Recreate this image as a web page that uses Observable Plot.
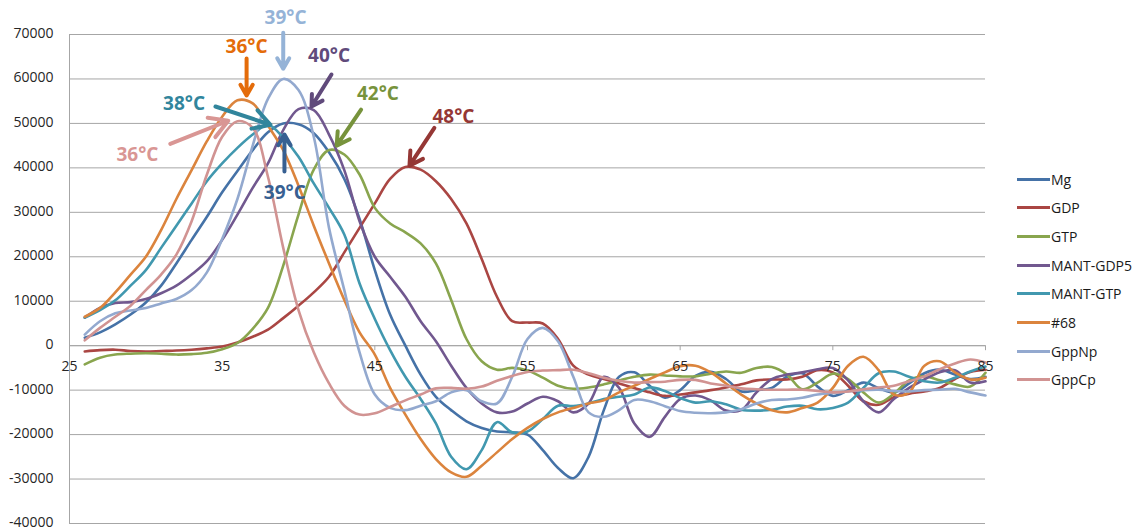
<!DOCTYPE html>
<html><head><meta charset="utf-8">
<script src="https://cdn.jsdelivr.net/npm/d3@7"></script>
<script src="https://cdn.jsdelivr.net/npm/@observablehq/plot@0.6"></script>
<style>
body{margin:0;background:#fff;font-family:"Open Sans",sans-serif;}
#wrap{position:relative;width:1134px;height:531px;overflow:hidden;}
#legend{position:absolute;left:1017px;top:0;width:117px;height:531px;}
.item{position:absolute;left:0;height:20px;display:flex;align-items:center;white-space:nowrap;font-size:14px;color:#1a1a1a;}
.sw{width:33px;height:3px;margin-right:1px;}
</style></head><body><div id="wrap"><div id="legend"></div></div>
<script>
// x categories (temperature, °C)
const temps = [26,27,28,29,30,31,32,33,34,35,36,37,38,39,40,41,42,43,44,45,46,47,48,49,50,51,52,53,54,55,56,57,58,59,60,61,62,63,64,65,66,67,68,69,70,71,72,73,74,75,76,77,78,79,80,81,82,83,84,85];

const seriesNames = ["Mg","GDP","GTP","MANT-GDP5","MANT-GTP","#68","GppNp","GppCp"];
const seriesColors = ["#4572A7","#AA4643","#89A54E","#71588F","#4198AF","#DB843D","#93A9CF","#D19392"];

const mg = [1800,3000,4800,7000,9700,13500,18500,23800,29000,34500,39300,44000,48000,50000,49800,47800,43500,37500,28500,17000,7000,0,-6500,-11500,-14500,-17000,-18500,-19300,-19500,-20000,-23500,-27500,-29800,-25000,-14500,-7000,-6000,-9000,-11700,-10000,-6800,-5900,-7500,-10300,-10000,-9500,-7000,-6200,-9200,-11300,-10000,-8300,-9500,-10500,-8500,-6200,-5400,-6500,-7500,-7000];
const gdp = [-1300,-1000,-900,-1200,-1300,-1200,-1100,-900,-600,-200,700,2000,3600,6200,9000,12000,15500,21000,26500,32000,37500,40200,39600,37000,33000,27500,19500,11000,5500,5200,5000,1500,-4500,-6500,-7500,-8500,-9500,-10500,-11300,-11000,-10500,-10000,-9400,-8700,-7800,-7600,-7600,-7000,-5500,-6000,-9000,-12500,-13300,-11600,-10800,-10300,-9500,-7500,-5900,-5400];
const gtp = [-4200,-2700,-2000,-1800,-1700,-1800,-2000,-1900,-1600,-800,600,3800,8500,18000,29500,39600,44000,43000,38500,31000,27500,25500,23000,18500,10300,1500,-3500,-5400,-5000,-5600,-7200,-9000,-9700,-9400,-8700,-7800,-7000,-6500,-6700,-6900,-6900,-6300,-5800,-6100,-5000,-4800,-6500,-9800,-8300,-6300,-7500,-10500,-12800,-10800,-7800,-6900,-7800,-8700,-9200,-6100];
const mantGdp5 = [6300,8500,9600,9800,10500,11800,13500,16000,19000,23800,29500,35500,41000,48500,53200,53000,47500,39500,28000,20000,15500,11000,5500,1000,-4500,-9500,-13000,-15000,-14800,-13000,-11500,-12500,-15000,-13000,-7000,-9500,-17500,-20500,-16000,-12000,-11200,-12300,-14600,-14500,-10500,-7500,-6500,-6000,-5300,-5000,-7800,-12500,-15000,-12000,-9500,-7600,-6000,-5500,-8300,-8000];
const mantGtp = [6300,8000,10200,13500,17000,22000,27000,32000,37000,41000,44500,47500,49700,46800,42500,36500,31000,25000,14000,6000,-1000,-7000,-12000,-17500,-25000,-27800,-23500,-17200,-19500,-19300,-16500,-13500,-13600,-13000,-12000,-11500,-11000,-9400,-10200,-11800,-12800,-12500,-13200,-14400,-14600,-14400,-13700,-13500,-14300,-14000,-12800,-9500,-6200,-5800,-7000,-8000,-8300,-7200,-5800,-4700];
const n68 = [6500,8500,12000,16000,20000,26000,33000,39500,46000,51500,55200,54500,49500,44000,36000,27000,18500,10300,3000,-2000,-9500,-15500,-21000,-25500,-28500,-29500,-27000,-24000,-21000,-18500,-16500,-15000,-14000,-13000,-12300,-10500,-9000,-7500,-6000,-4600,-4500,-6000,-8500,-11000,-13000,-14500,-15000,-14000,-12800,-9500,-4500,-2500,-5500,-11000,-10500,-4500,-3500,-6000,-7600,-7200];
const gppNp = [2500,5500,7300,7900,8500,9500,10500,12500,16500,24000,33000,45000,55500,60000,57500,47000,26500,12500,-1500,-11000,-14000,-14500,-13500,-12500,-10500,-10000,-12500,-13000,-7000,1500,4000,1000,-7000,-15000,-16000,-14500,-12200,-12500,-13600,-14700,-15100,-15200,-15000,-14300,-13000,-12200,-12100,-11700,-11000,-10600,-10300,-10000,-9900,-10200,-10300,-10000,-9900,-9700,-10500,-11200];
const gppCp = [1200,4000,6500,9000,12500,16000,20500,28000,38500,47000,50500,49000,38000,22000,8000,-1500,-8500,-13500,-15500,-15200,-13800,-12300,-11000,-9600,-9500,-9700,-9200,-7900,-6800,-5900,-5600,-5500,-5400,-6200,-7200,-7900,-8300,-8200,-8100,-7700,-7700,-8500,-9000,-9600,-9800,-9900,-9900,-9900,-10200,-10500,-10300,-9800,-9400,-9000,-8000,-6900,-5300,-4000,-3100,-3800];

const seriesValues = [mg, gdp, gtp, mantGdp5, mantGtp, n68, gppNp, gppCp];

// axis ticks
const xTicks = [25,35,45,55,65,75,85];
const yTicks = [-40000,-30000,-20000,-10000,0,10000,20000,30000,40000,50000,60000,70000];

// peak annotations: label, colour, label position, arrow from/to (data coords)
const annotLabels = ["39°C","36°C","40°C","42°C","48°C","38°C","36°C","39°C"];
const annotColors = ["#95B3D7","#E46C0A","#604A7B","#77933C","#953735","#31859C","#D99694","#376092"];
const annotTextT = [39.15,36.6,42.0,45.2,50.15,32.5,29.45,39.1];
const annotTextV = [73800,67300,65200,56700,51500,54400,43000,34400];
const annotFromT = [39.0,36.6,42.16,44.1,48.9,34.56,31.6,39.08];
const annotFromV = [70400,64600,61000,53100,49000,53800,45400,39200];
const annotToT = [39.0,36.6,40.85,42.5,47.27,38.16,35.4,39.08];
const annotToV = [62300,56300,53800,45000,40500,49700,50600,47500];

const rows = [];
seriesNames.forEach((s, si) => temps.forEach((t, i) => rows.push({series: s, t, v: seriesValues[si][i]})));
const annots = annotLabels.map((label, i) => ({label, color: annotColors[i], tx: annotTextT[i], tv: annotTextV[i], x1: annotFromT[i], y1: annotFromV[i], x2: annotToT[i], y2: annotToV[i]}));

const grid = "#a6a6a6";
const chart = Plot.plot({
  width: 1134, height: 531,
  marginLeft: 69, marginRight: 149, marginTop: 34, marginBottom: 8,
  style: {fontFamily: "'Open Sans', sans-serif", fontSize: "14px", color: "#262626", background: "#fff"},
  x: {domain: [25, 85], axis: null},
  y: {domain: [-40000, 70000], axis: null},
  color: {domain: seriesNames, range: seriesColors},
  marks: [
    Plot.gridY(yTicks, {stroke: grid, strokeOpacity: 1}),
    Plot.ruleX([25], {stroke: grid}),
    Plot.ruleY([0], {stroke: grid}),
    Plot.ruleX(xTicks, {x: d => d, y1: 0, y2: 0, insetBottom: -5, stroke: grid}),
    Plot.axisY(yTicks, {tickSize: 0, tickPadding: 16, dy: -1, tickFormat: d => String(d), fontSize: 14, fill: "#262626"}),
    Plot.line(rows, {x: "t", y: "v", z: "series", stroke: "series", strokeWidth: 2.6, curve: "catmull-rom"}),
    Plot.text(xTicks, {x: d => d, y: 0, dy: 21, text: d => String(d), fontSize: 14, fill: "#262626"}),
    ...annots.flatMap(a => [
      Plot.arrow([a], {x1: "x1", y1: "y1", x2: "x2", y2: "y2", stroke: a.color, strokeWidth: 4, headLength: 15, headAngle: 60}),
      Plot.text([a], {x: "tx", y: "tv", text: "label", fill: a.color, fontSize: 19, fontWeight: "bold"})
    ])
  ]
});
document.getElementById("wrap").prepend(chart);

const legend = d3.select("#legend");
const legendTop = 179, legendStep = 28.7;
seriesNames.forEach((s, i) => {
  const it = legend.append("div").attr("class", "item").style("top", (legendTop + i * legendStep - 10) + "px");
  it.append("div").attr("class", "sw").style("background", seriesColors[i]);
  it.append("span").text(s);
});
</script>
</body></html>
